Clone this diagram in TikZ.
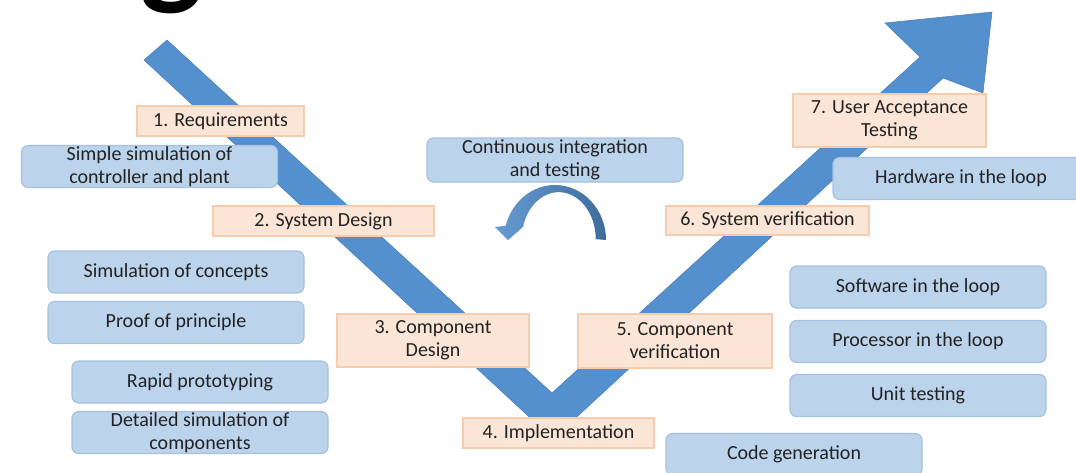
\documentclass[tikz,border=0pt]{standalone}
\usepackage{fontspec}
\setmainfont{Carlito}

\definecolor{vblue}{HTML}{5590CE}
\definecolor{vline}{HTML}{4A7FB8}
\definecolor{stepfill}{HTML}{FBE5D6}
\definecolor{stepline}{HTML}{F6CBAE}
\definecolor{toolfill}{HTML}{BCD3EC}
\definecolor{toolline}{HTML}{A5C0E0}
\definecolor{txt}{HTML}{222222}

\tikzset{
  label font/.style={font=\fontsize{15}{17.2}\selectfont},
  stepbox/.style={draw=stepline, fill=stepfill, line width=0.9pt, inner sep=0pt,
    align=center, text=txt, label font},
  toolbox/.style={draw=toolline, fill=toolfill, line width=0.9pt, rounded corners=5pt,
    inner sep=0pt, align=center, text=txt, label font,
    minimum width=192pt, minimum height=31.5pt},
}

\begin{document}
\begin{tikzpicture}[x=0.75pt,y=-0.75pt]
\useasboundingbox (0,0) rectangle (1076,472);
\clip (0,0) rectangle (1076,472);

% heading, mostly off the top
\node[font=\fontsize{99}{99}\bfseries\selectfont, inner sep=0pt, anchor=base] (head) at (172,-9) {g};

% the V
\fill[vblue, draw=vline, line width=0.4pt]
  (144,60) -- (167,40) -- (552,393) -- (920,57) -- (885,23) -- (992,12)
  -- (983,93) -- (943,78) -- (553,439) -- cycle;

% loop arrow
\shade[left color=vblue!90!white, right color=vline!85!black]
  (606,240) arc[start angle=0, end angle=-165, x radius=51, y radius=55]
  -- (495,227) -- (508,240) -- (523,227)
  arc[start angle=-165, end angle=0, x radius=37, y radius=47] -- cycle;

% phases
\node[stepbox, minimum width=125.25pt, minimum height=22.5pt] (req) at (220.5,121) {1. Requirements};
\node[stepbox, minimum width=165.75pt, minimum height=22.5pt] (sysdes) at (323.5,221) {2. System Design};
\node[stepbox, minimum width=144pt, minimum height=39.75pt] (compdes) at (433,340.5) {3. Component\\Design};
\node[stepbox, minimum width=143.25pt, minimum height=22.5pt] (impl) at (558.5,433) {4. Implementation};
\node[stepbox, minimum width=145.5pt, minimum height=40.5pt] (compver) at (675,341) {5. Component\\verification};
\node[stepbox, minimum width=152.25pt, minimum height=21.75pt] (sysver) at (767.5,220.5) {6. System verification};
\node[stepbox, minimum width=144.75pt, minimum height=39.75pt] (uat) at (889.5,120.5) {7. User Acceptance\\Testing};

% tools
\node[toolbox] (simple) at (149.5,166.5) {Simple simulation of\\controller and plant};
\node[toolbox] (concepts) at (176,272) {Simulation of concepts};
\node[toolbox] (proof) at (176,322.5) {Proof of principle};
\node[toolbox] (rapid) at (200,382) {Rapid prototyping};
\node[toolbox] (detail) at (200,432.5) {Detailed simulation of\\components};
\node[toolbox, minimum height=33pt] (ci) at (555,160) {Continuous integration\\and testing};
\node[toolbox] (hil) at (961,178.5) {Hardware in the loop};
\node[toolbox] (sil) at (918,287) {Software in the loop};
\node[toolbox] (pil) at (918,341.5) {Processor in the loop};
\node[toolbox] (unit) at (918,395.5) {Unit testing};
\node[toolbox] (codegen) at (794,454.5) {Code generation};
\end{tikzpicture}
\end{document}
